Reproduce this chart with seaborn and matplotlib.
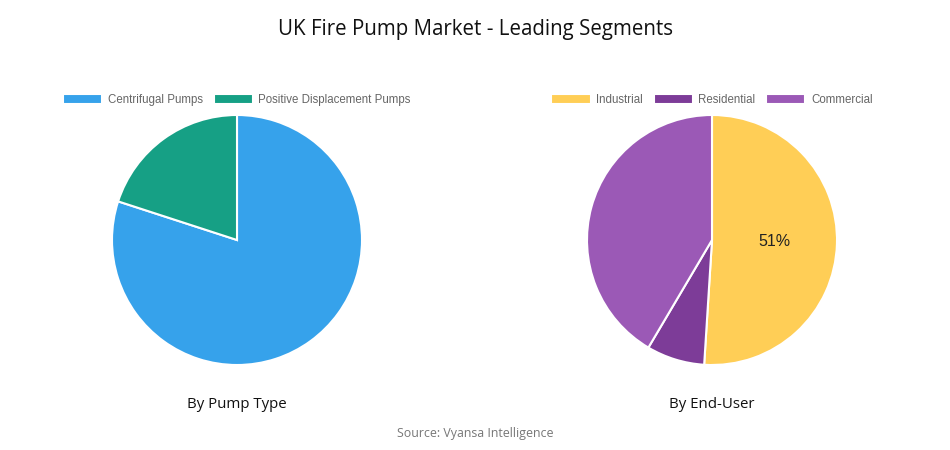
import matplotlib
matplotlib.use("Agg")
import matplotlib.pyplot as plt
import seaborn as sns
import numpy as np

sns.set_theme(style="white")
plt.rcParams['font.family'] = ['Open Sans', 'DejaVu Sans']

# Data
title = "UK Fire Pump Market - Leading Segments"
pump_labels = ["Centrifugal Pumps", "Positive Displacement Pumps"]
pump_values = [80, 20]
pump_colors = ["#36A2EB", "#16A085"]

user_labels = ["Industrial", "Residential", "Commercial"]
user_values = [51, 7.5, 41.5]
user_colors = ["#FFCE56", "#7D3C98", "#9B59B6"]
user_show_pct = [True, False, False]

fig = plt.figure(figsize=(9.5, 4.5), dpi=100)
fig.patch.set_facecolor("white")

ax1 = fig.add_axes([112/950, 85/450, 250/950, 250/450])
ax2 = fig.add_axes([587/950, 85/450, 250/950, 250/450])

def draw(ax, values, labels, colors, show=None):
    pal = sns.color_palette(colors)
    wedges, *rest = ax.pie(values, colors=pal, startangle=90, counterclock=False,
                           wedgeprops=dict(edgecolor="white", linewidth=1.5))
    if show is not None:
        theta_acc = 0
        total = sum(values)
        for v, s in zip(values, show):
            mid = theta_acc + v / 2
            theta_acc += v
            if s:
                ang = np.deg2rad(90 - mid / total * 360)
                ax.text(0.5 * np.cos(ang), 0.5 * np.sin(ang), f"{v / total * 100:.0f}%",
                        ha="center", va="center", fontsize=11.5, color="#222222",
                        family="Liberation Sans")
    ax.set_aspect("equal")
    ax.set_xlim(-1.0, 1.0)
    ax.set_ylim(-1.0, 1.0)
    leg = ax.legend(wedges, labels, loc="center", bbox_to_anchor=(0.5, 1.06),
                    ncol=len(labels), frameon=False, handlelength=3.4, handleheight=0.85,
                    handletextpad=0.5, columnspacing=0.9,
                    prop=dict(family="Liberation Sans", size=8.3))
    for t in leg.get_texts():
        t.set_color("#666666")
    return wedges

draw(ax1, pump_values, pump_labels, pump_colors)
draw(ax2, user_values, user_labels, user_colors, user_show_pct)

fig.text(0.5, 1 - 29/450, title, ha="center", va="center", fontsize=14.8, color="#111111")
fig.text(237/950, 1 - 405/450, "By Pump Type", ha="center", va="center", fontsize=10.8, color="#111111")
fig.text(712/950, 1 - 405/450, "By End-User", ha="center", va="center", fontsize=10.8, color="#111111")
fig.text(0.5, 1 - 434/450, "Source: Vyansa Intelligence", ha="center", va="center", fontsize=8.9, color="#777777")

fig.savefig("out.png", dpi=100, facecolor="white")
